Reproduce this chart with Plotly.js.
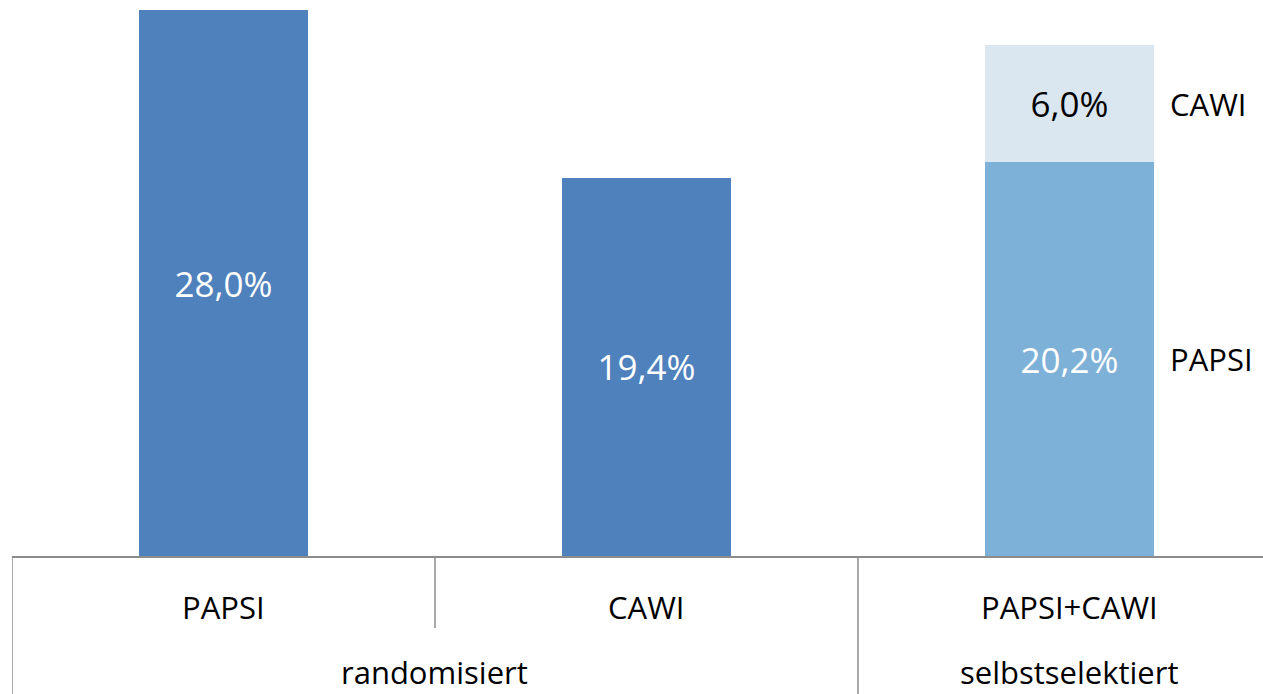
<!DOCTYPE html>
<html><head><meta charset="utf-8">
<script src="https://cdn.plot.ly/plotly-3.0.1.min.js"></script>
<style>html,body{margin:0;padding:0;background:#fff;}#chart{width:1263px;height:694px;}</style>
</head><body><div id="chart"></div>
<script>
const categories = ['PAPSI', 'CAWI', 'PAPSI+CAWI'];
const groups = ['randomisiert', 'selbstselektiert'];
const groupCenters = [0.5, 2];
const singleValues = [28.0, 19.4, null];
const stackPapsi = [null, null, 20.2];
const stackCawi = [null, null, 6.0];
const seriesNames = ['PAPSI', 'CAWI'];

const fmt = v => v == null ? '' : v.toFixed(1).replace('.', ',') + '%';
const FONT = '"Open Sans", Lato, sans-serif';
const LBL = 31;
const VAL = 35;

const traces = [
  {type:'bar', x:categories, y:singleValues, text:singleValues.map(fmt), width:0.4,
   marker:{color:'#4F81BD'}, textposition:'inside', insidetextanchor:'middle',
   textfont:{color:'#ffffff', size:VAL, family:FONT}, hoverinfo:'none'},
  {type:'bar', x:categories, y:stackPapsi, text:stackPapsi.map(fmt), width:0.4,
   marker:{color:'#7EB1D7'}, textposition:'inside', insidetextanchor:'middle',
   textfont:{color:'#ffffff', size:VAL, family:FONT}, hoverinfo:'none'},
  {type:'bar', x:categories, y:stackCawi, text:stackCawi.map(fmt), width:0.4,
   marker:{color:'#DAE7F1'}, textposition:'inside', insidetextanchor:'middle',
   textfont:{color:'#000000', size:VAL, family:FONT}, hoverinfo:'none'}
];

const annotations = [];
categories.forEach((c, i) => annotations.push({xref:'x', yref:'paper', x:i, y:-0.093,
  text:c, showarrow:false, font:{size:LBL, family:FONT, color:'#000'}, yanchor:'middle'}));
groups.forEach((g, i) => annotations.push({xref:'x', yref:'paper', x:groupCenters[i], y:-0.2527,
  text:g, showarrow:false, font:{size:LBL, family:FONT, color:'#000'}, yanchor:'bottom', borderpad:0}));
annotations.push({xref:'x', yref:'y', x:2.232, y:stackPapsi[2] + stackCawi[2] / 2, text:seriesNames[1],
  showarrow:false, xanchor:'left', font:{size:LBL, family:FONT, color:'#000'}});
annotations.push({xref:'x', yref:'y', x:2.232, y:stackPapsi[2] / 2, text:seriesNames[0],
  showarrow:false, xanchor:'left', font:{size:LBL, family:FONT, color:'#000'}});

const lineStyle = {color:'#8C8C8C', width:1.5};
const shapes = [
  {type:'line', xref:'x', yref:'paper', x0:-0.5, x1:-0.5, y0:0, y1:-0.26, line:lineStyle},
  {type:'line', xref:'x', yref:'paper', x0:0.5, x1:0.5, y0:0, y1:-0.132, line:lineStyle},
  {type:'line', xref:'x', yref:'paper', x0:1.5, x1:1.5, y0:0, y1:-0.26, line:lineStyle}
];

const layout = {
  width:1263, height:694, barmode:'stack', showlegend:false,
  margin:{l:12, r:0, t:10, b:138},
  paper_bgcolor:'#fff', plot_bgcolor:'#fff',
  xaxis:{type:'category', range:[-0.5, 2.4575], showticklabels:false, ticks:'',
    showline:true, linecolor:'#8C8C8C', linewidth:1.5, showgrid:false, zeroline:false, fixedrange:true},
  yaxis:{range:[0, 28], visible:false, showgrid:false, zeroline:false, fixedrange:true},
  annotations:annotations, shapes:shapes, font:{family:FONT}
};
Plotly.newPlot('chart', traces, layout, {displayModeBar:false, staticPlot:true});
</script></body></html>
